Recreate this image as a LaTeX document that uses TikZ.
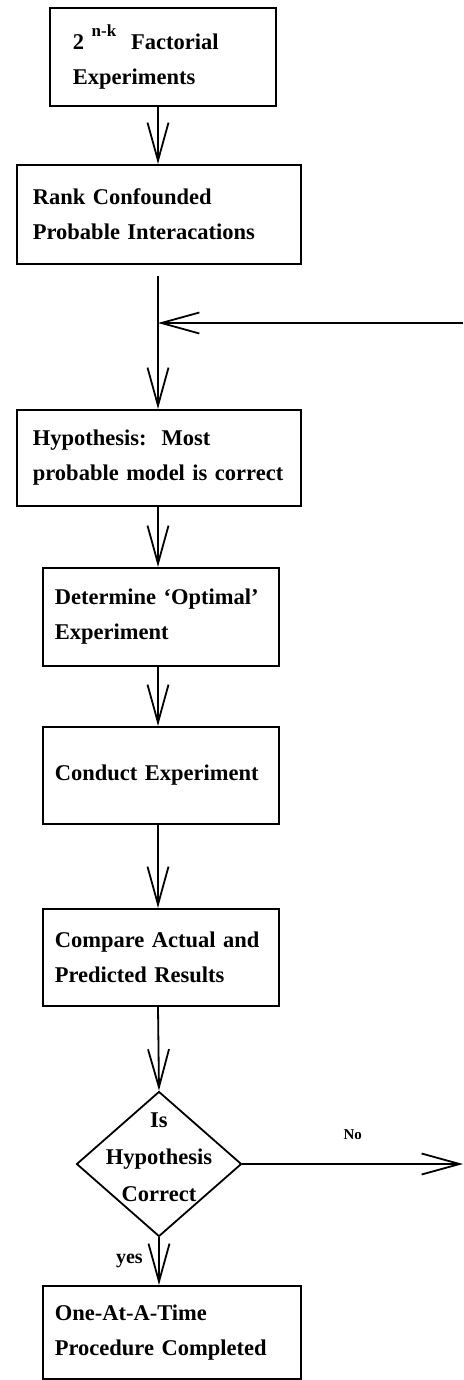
\documentclass[tikz,border=0pt]{standalone}
\usepackage{fontspec}
\setmainfont{Liberation Serif}
\usepackage{tikz}
\usetikzlibrary{shapes.geometric}
\usetikzlibrary{arrows.meta}
\hyphenpenalty=10000
\exhyphenpenalty=10000

\begin{document}
\begin{tikzpicture}[x=1pt,y=-1pt,line width=1.8pt,>={Straight Barb[length=38pt,width=21pt]}]
\tikzstyle{box}=[draw,rectangle,anchor=north west,align=left,inner ysep=0pt,font=\bfseries\fontsize{22.5}{35}\selectfont]
\tikzstyle{lbl}=[font=\bfseries\fontsize{22.5}{37}\selectfont,align=center]
\useasboundingbox (0,0) rectangle (463,1380);
\node[box,minimum width=226pt,minimum height=98pt,inner xsep=23pt,text width=180pt] (a) at (49,7)
  {2\ \raisebox{0.6em}{\fontsize{17}{17}\selectfont n-k}\ \ Factorial\\Experiments};
\node[box,minimum width=284pt,minimum height=99pt,inner xsep=16pt,text width=252pt] (b) at (16,164)
  {Rank Confounded\\Probable Interacations};
\node[box,minimum width=284pt,minimum height=96pt,inner xsep=16pt,text width=252pt] (c) at (16,409)
  {Hypothesis:\ \ Most\\probable model is correct};
\node[box,minimum width=236pt,minimum height=98pt,inner xsep=12pt,text width=212pt] (d) at (42,567)
  {Determine `Optimal'\\Experiment};
\node[box,minimum width=236pt,minimum height=97pt,inner xsep=12pt,text width=212pt] (e) at (42,726)
  {Conduct Experiment};
\node[box,minimum width=236pt,minimum height=97pt,inner xsep=12pt,text width=212pt] (f) at (42,908)
  {Compare Actual and\\Predicted Results};
\node[draw,diamond,minimum width=165pt,minimum height=145pt,inner sep=0pt] (q) at (159,1164) {};
\node[lbl] (qt) at (159,1157) {Is\\Hypothesis\\Correct};
\node[box,minimum width=258pt,minimum height=93pt,inner xsep=12pt,text width=234pt] (g) at (42,1285)
  {One-At-A-Time\\Procedure Completed};
% spine and loose ends
\coordinate (s) at (158,0);
\coordinate (t) at (158,276);
\coordinate (j) at (158,323);
\coordinate (r) at (463,323);
\coordinate (n) at (463,1164);
\draw [->] (a.south -| s) -- (b.north -| s);
\draw [->] (t) -- (c.north -| t);
\draw [->] (r) -- (j);
\draw [->] (c.south -| s) -- (d.north -| s);
\draw [->] (d.south -| s) -- (e.north -| s);
\draw [->] (e.south -| s) -- (f.north -| s);
\draw [->] (f.south -| s) -- (q.north);
\draw [->] (q.east) -- (n) node [midway,above=20pt,font=\bfseries\fontsize{15}{15}\selectfont] {No};
\draw [->] (q.south) -- (g.north -| q.south) node [midway,left=12pt,font=\bfseries\fontsize{20}{20}\selectfont] {yes};
\end{tikzpicture}
\end{document}
